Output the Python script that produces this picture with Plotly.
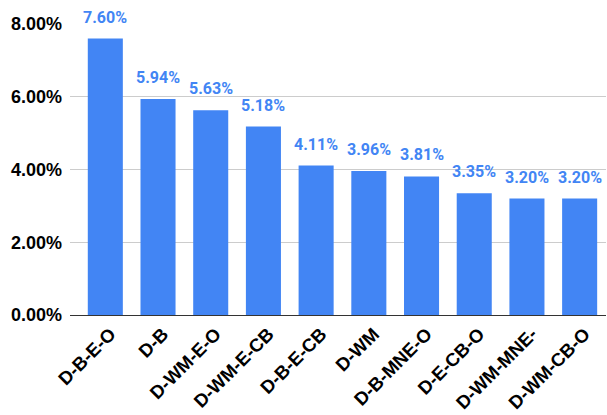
import plotly.graph_objects as go

categories = ["D-B-E-O", "D-B", "D-WM-E-O", "D-WM-E-CB", "D-B-E-CB", "D-WM",
              "D-B-MNE-O", "D-E-CB-O", "D-WM-MNE-", "D-WM-CB-O"]
values = [7.60, 5.94, 5.63, 5.18, 4.11, 3.96, 3.81, 3.35, 3.20, 3.20]
y_ticks = [0, 2, 4, 6, 8]
y_tick_labels = ["0.00%", "2.00%", "4.00%", "6.00%", "8.00%"]

BLUE = "#4285F4"

fig = go.Figure()
fig.add_trace(go.Bar(x=categories, y=values, marker=dict(color=BLUE, line=dict(width=0)),
                     hoverinfo="skip"))

for c, v in zip(categories, values):
    fig.add_annotation(x=c, y=v, text=f"{v:.2f}%", showarrow=False,
                       yanchor="bottom", yshift=10,
                       font=dict(family="Roboto", size=16, color=BLUE, weight="bold"))

fig.update_layout(
    width=607, height=415,
    margin=dict(l=70, r=1, t=24, b=100),
    paper_bgcolor="white", plot_bgcolor="white",
    bargap=0.335, showlegend=False,
    xaxis=dict(range=[-0.67, 9.5], tickangle=-45, showgrid=False, automargin=False,
               tickfont=dict(family="Liberation Sans, Arial", size=18.5, color="#000", weight="bold"),
               showline=True, linecolor="#333", linewidth=1, ticks="",
               ticklabelstandoff=0, ticklabelshift=5),
    yaxis=dict(range=[0, 8], tickvals=y_ticks, ticktext=y_tick_labels, automargin=False,
               showgrid=True, gridcolor="#cccccc", gridwidth=1, zeroline=False,
               tickfont=dict(family="Liberation Sans, Arial", size=18, color="#000", weight="bold"),
               ticks="", ticklabelstandoff=7),
)

fig.write_html("out.html")
